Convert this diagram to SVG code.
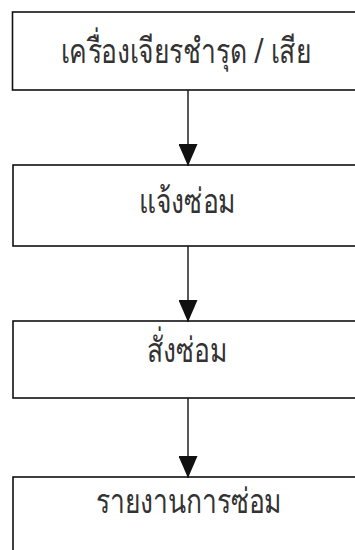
<svg xmlns="http://www.w3.org/2000/svg" width="355" height="550" viewBox="0 0 355 550">
<style>
.box{fill:#fff;stroke:#111;stroke-width:1.6}
.lbl{font-family:"Noto Sans","DejaVu Sans",sans-serif;font-size:26.5px;fill:#333;text-anchor:middle}
.edge{stroke:#111;stroke-width:1.4;fill:none}
</style>
<defs>
<marker id="ah" viewBox="0 0 22 19" refX="22" refY="9.5" markerWidth="22" markerHeight="19" markerUnits="userSpaceOnUse" orient="auto">
<path d="M0,0 L22,9.5 L0,19 Z" fill="#111"/>
</marker>
</defs>
<rect width="355" height="550" fill="#fff"/>
<g id="n1"><rect class="box" x="12.5" y="12" width="360" height="78"/><text class="lbl" transform="translate(186,63) scale(1,1.3)">เครื่องเจียรชำรุด / เสีย</text></g>
<g id="n2"><rect class="box" x="13" y="165" width="360" height="81"/><text class="lbl" transform="translate(187,213) scale(1,1.3)">แจ้งซ่อม</text></g>
<g id="n3"><rect class="box" x="13" y="321" width="360" height="77"/><text class="lbl" transform="translate(187,362) scale(1,1.3)">สั่งซ่อม</text></g>
<g id="n4"><rect class="box" x="13" y="477" width="360" height="90"/><text class="lbl" transform="translate(189,513) scale(1,1.3)">รายงานการซ่อม</text></g>
<g id="edges">
<line class="edge" x1="188" y1="90" x2="188" y2="166" marker-end="url(#ah)"/>
<line class="edge" x1="188" y1="246" x2="188" y2="322" marker-end="url(#ah)"/>
<line class="edge" x1="188" y1="398" x2="188" y2="478" marker-end="url(#ah)"/>
</g>
</svg>
